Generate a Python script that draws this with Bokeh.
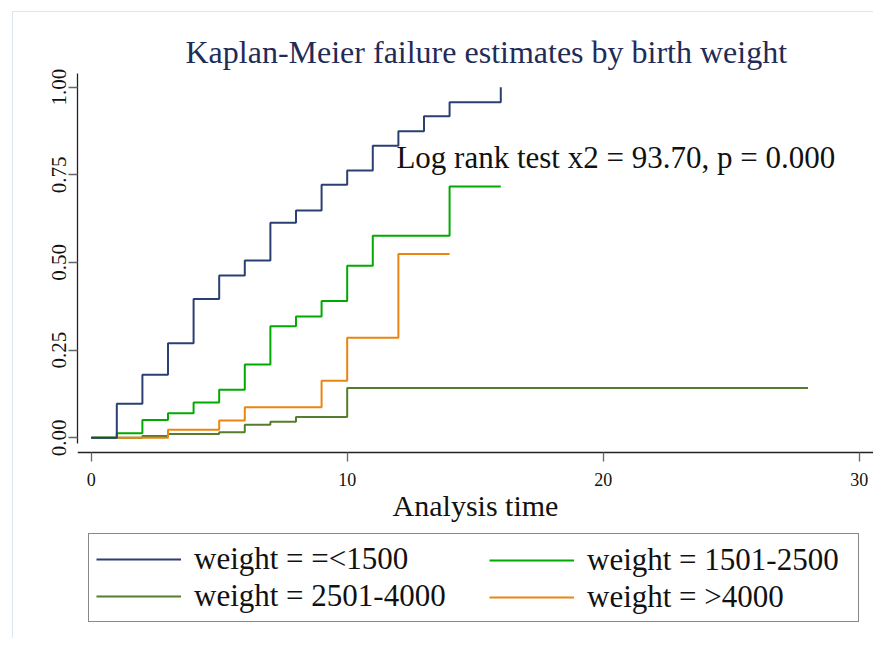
from bokeh.plotting import figure
from bokeh.models import Legend, LegendItem, Label, FixedTicker, Range1d, NumeralTickFormatter
from bokeh.embed import file_html
from bokeh.resources import INLINE

FONT = "Liberation Serif"

# Kaplan-Meier failure estimates (step points: time, cumulative failure)
t_le1500 = [0, 1, 2, 3, 4, 5, 6, 7, 8, 9, 10, 11, 12, 13, 14, 16]
f_le1500 = [0.0, 0.097, 0.180, 0.270, 0.396, 0.463, 0.506, 0.613, 0.648, 0.722, 0.762, 0.833, 0.874, 0.917, 0.957, 1.0]

t_1501_2500 = [0, 1, 2, 3, 4, 5, 6, 7, 8, 9, 10, 11, 14, 16]
f_1501_2500 = [0.0, 0.013, 0.051, 0.070, 0.101, 0.137, 0.209, 0.318, 0.346, 0.390, 0.491, 0.576, 0.717, 0.717]

t_2501_4000 = [0, 2, 3, 5, 6, 7, 8, 10, 28]
f_2501_4000 = [0.0, 0.005, 0.011, 0.016, 0.037, 0.046, 0.059, 0.142, 0.142]

t_gt4000 = [0, 3, 5, 6, 9, 10, 12, 14]
f_gt4000 = [0.0, 0.023, 0.049, 0.087, 0.163, 0.285, 0.524, 0.524]

labels = ["weight = =<1500", "weight = 1501-2500", "weight = 2501-4000", "weight = >4000"]
colors = ["#2b3f73", "#00aa00", "#567d2e", "#ea850f"]

x_ticks = [0, 10, 20, 30]
y_ticks = [0.0, 0.25, 0.5, 0.75, 1.0]

title_text = "Kaplan-Meier failure estimates by birth weight"
x_label = "Analysis time"
stat_text = "Log rank test x2 = 93.70, p = 0.000"
stat_x, stat_y = 12, 0.80

X_AXIS_AT = -0.042
p = figure(width=861, height=627, output_backend="svg", toolbar_location=None,
           x_range=Range1d(-0.535, 30.56), y_range=Range1d(-0.5496, 1.039),
           min_border_left=64, min_border_right=1, min_border_top=61, min_border_bottom=9)
p.styles = {"border-top": "1px solid #dfe5ec", "border-left": "1px solid #dfe5ec",
            "margin-left": "12px", "margin-top": "11px"}

p.title.text = title_text
p.title.text_font = FONT
p.title.text_font_size = "32px"
p.title.text_font_style = "normal"
p.title.text_color = "#1f2c57"
p.title.align = "left"
p.title.offset = 108
p.title.standoff = 8

p.xgrid.visible = False
p.ygrid.visible = False
p.outline_line_color = None
p.background_fill_color = "white"
p.border_fill_color = "white"

series = [(t_le1500, f_le1500), (t_1501_2500, f_1501_2500), (t_2501_4000, f_2501_4000), (t_gt4000, f_gt4000)]
draw_order = [2, 3, 1, 0]
rs = {}
for i in draw_order:
    t, f = series[i]
    rs[i] = p.step(t, f, mode="after", line_color=colors[i], line_width=2)

for ax in (p.xaxis[0], p.yaxis[0]):
    ax.axis_line_color = "#222222"
    ax.axis_line_width = 1.3
    ax.major_tick_line_color = "#666666"
    ax.major_tick_line_width = 1.3
    ax.major_tick_in = 0
    ax.major_tick_out = 9
    ax.minor_tick_line_color = None
    ax.major_label_text_font = FONT
    ax.major_label_text_color = "#111111"

p.xaxis.fixed_location = X_AXIS_AT
p.xaxis.ticker = FixedTicker(ticks=x_ticks)
p.xaxis.major_label_text_font_size = "18px"
p.xaxis.major_label_standoff = 11
p.xaxis.axis_label = x_label
p.xaxis.axis_label_text_font = FONT
p.xaxis.axis_label_text_font_size = "30px"
p.xaxis.axis_label_text_font_style = "normal"
p.xaxis.axis_label_text_color = "#111111"
p.xaxis.axis_label_standoff = 0

p.yaxis.ticker = FixedTicker(ticks=y_ticks)
p.yaxis.formatter = NumeralTickFormatter(format="0.00")
p.yaxis.major_label_orientation = "vertical"
p.yaxis.major_label_text_font_size = "21px"
p.yaxis.major_label_standoff = 2
p.yaxis.bounds = (-0.016, 1.039)

p.add_layout(Label(x=stat_x, y=stat_y, x_offset=-2, text=stat_text, text_font=FONT, text_font_size="31px",
                   text_baseline="alphabetic", text_align="left", text_color="#111111"))

common = dict(orientation="vertical", glyph_width=85, glyph_height=34, label_height=34,
              label_standoff=13, spacing=1, padding=7, margin=0,
              label_text_font=FONT, label_text_font_size="31px", label_text_color="#111111")
legA = Legend(items=[LegendItem(label=labels[0], renderers=[rs[0]]),
                     LegendItem(label=labels[2], renderers=[rs[2]])],
              location=(11, 8), label_width=657,
              border_line_color="#111111", border_line_width=1.2, background_fill_color="white",
              background_fill_alpha=1.0, **common)
legB = Legend(items=[LegendItem(label=labels[1], renderers=[rs[1]]),
                     LegendItem(label=labels[3], renderers=[rs[3]])],
              location=(405, 8), border_line_alpha=0, background_fill_alpha=0, **common)
p.add_layout(legA, "center")
p.add_layout(legB, "center")

open("out.html", "w").write(file_html(p, INLINE))
